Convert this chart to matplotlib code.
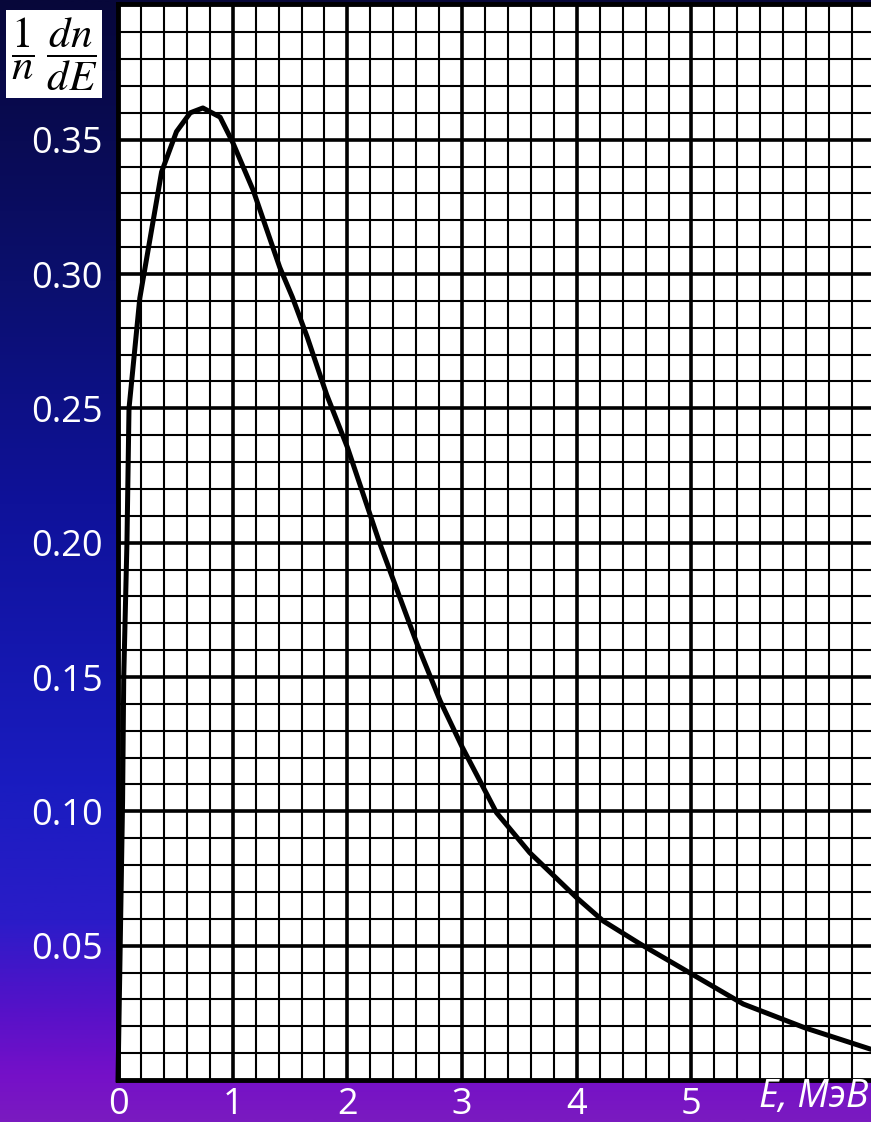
import numpy as np
import matplotlib
matplotlib.use('Agg')
import matplotlib.pyplot as plt
from matplotlib.colors import LinearSegmentedColormap

# Spectrum: energy (MeV) vs (1/n) dn/dE
energy = [0.0, 0.04, 0.05, 0.078, 0.096, 0.19, 0.38, 0.51, 0.63, 0.74, 0.89,
          1.0, 1.18, 1.41, 1.52, 1.65, 1.82, 2.0, 2.28, 2.61, 2.81, 3.0, 3.30, 3.59,
          4.0, 4.23, 4.55, 5.0, 5.45, 5.99, 6.56]
density = [0.0, 0.104, 0.15, 0.20, 0.25, 0.291, 0.338, 0.353, 0.360, 0.3618, 0.3584,
           0.349, 0.331, 0.3025, 0.2914, 0.2765, 0.255, 0.2355, 0.200, 0.162, 0.141, 0.124,
           0.0995, 0.0846, 0.0678, 0.0592, 0.0507, 0.0395, 0.0283, 0.0194, 0.0115]

x_ticks = [0, 1, 2, 3, 4, 5]
x_labels = ['0', '1', '2', '3', '4', '5']
y_ticks = [0.05, 0.10, 0.15, 0.20, 0.25, 0.30, 0.35]
y_labels = ['0.05', '0.10', '0.15', '0.20', '0.25', '0.30', '0.35']

# background gradient colours, top -> bottom
bg_stops = [(0.0, '#07073a'), (0.25, '#0b0f6e'), (0.45, '#0f129a'), (0.7, '#1a1cc0'),
            (0.82, '#2a1cc8'), (0.9, '#5512c8'), (0.96, '#7510c8'), (1.0, '#7a1ac0')]

plt.rcParams['mathtext.fontset'] = 'stix'

fig = plt.figure(figsize=(8.71, 11.22), dpi=100)

bg = fig.add_axes([0, 0, 1, 1])
cmap = LinearSegmentedColormap.from_list('bg', bg_stops)
bg.imshow(np.linspace(0, 1, 512).reshape(-1, 1), cmap=cmap, aspect='auto',
          extent=[0, 1, 0, 1], origin='upper')
bg.set_axis_off()

ax = fig.add_axes([118 / 871, 42 / 1122, 1 - 118 / 871, 1076 / 1122])
ax.set_facecolor('white')
ax.set_xlim(0, 6.565)
ax.set_ylim(0, 0.4005)

ax.set_xticks(x_ticks)
ax.set_xticklabels(x_labels)
ax.set_yticks(y_ticks)
ax.set_yticklabels(y_labels)
ax.set_xticks(np.arange(0, 6.6, 0.2), minor=True)
ax.set_yticks(np.arange(0, 0.401, 0.01), minor=True)
ax.tick_params(which='both', length=0)
ax.tick_params(axis='y', pad=11, labelsize=26, labelcolor='white')
ax.tick_params(axis='x', pad=5, labelsize=26, labelcolor='white')
for lab in ax.get_xticklabels() + ax.get_yticklabels():
    lab.set_family('Open Sans')

ax.grid(which='minor', color='black', lw=1.5)
ax.grid(which='major', color='black', lw=2.6)
ax.set_axisbelow(True)

for side in ['left', 'bottom', 'top']:
    ax.spines[side].set_linewidth(3.5)
    ax.spines[side].set_color('black')
ax.spines['right'].set_visible(False)

ax.plot(energy, density, color='black', lw=3.6, solid_joinstyle='round', clip_on=False)

fig.text(1 - 3 / 871, 6 / 1122, 'E, МэВ', color='white', fontsize=27, style='italic',
         family='Open Sans', ha='right', va='bottom')

fig.text(54 / 871, 1 - 54 / 1122, r'$\dfrac{1}{n}\;\dfrac{dn}{dE}$', fontsize=31,
         color='black', ha='center', va='center',
         bbox=dict(facecolor='white', edgecolor='none', boxstyle='square,pad=0.12'))

fig.savefig('out.png', dpi=100)
